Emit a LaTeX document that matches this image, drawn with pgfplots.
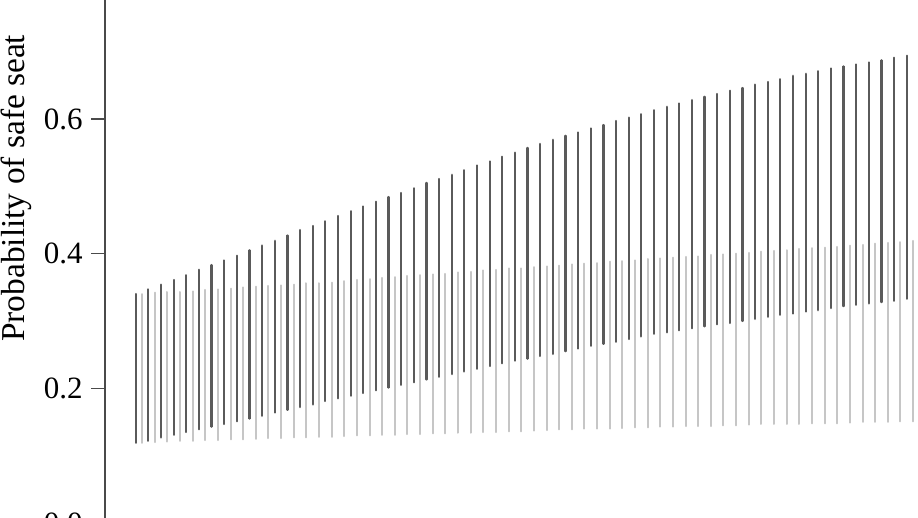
\documentclass[border=0pt]{standalone}
\usepackage{pgfplots}
\usepackage{pgfplotstable}
\pgfplotsset{compat=1.18}
\usepackage{fontspec}
\setmainfont{Liberation Serif}
\definecolor{darkbar}{HTML}{5A5A5A}
\definecolor{lightbar}{HTML}{C6C6C6}
\definecolor{axisgray}{HTML}{4A4A4A}

\pgfplotstableread{
x lo hi
0 0.119 0.340
1 0.122 0.347
2 0.127 0.354
3 0.131 0.361
4 0.135 0.368
5 0.139 0.376
6 0.143 0.383
7 0.147 0.390
8 0.151 0.397
9 0.155 0.405
10 0.159 0.412
11 0.164 0.419
12 0.168 0.427
13 0.172 0.435
14 0.176 0.441
15 0.181 0.448
16 0.185 0.456
17 0.189 0.463
18 0.193 0.470
19 0.197 0.477
20 0.201 0.484
21 0.205 0.490
22 0.209 0.497
23 0.213 0.505
24 0.217 0.511
25 0.221 0.517
26 0.225 0.524
27 0.229 0.531
28 0.233 0.537
29 0.237 0.544
30 0.241 0.550
31 0.244 0.557
32 0.248 0.563
33 0.251 0.569
34 0.255 0.575
35 0.259 0.580
36 0.263 0.586
37 0.266 0.591
38 0.269 0.597
39 0.273 0.602
40 0.277 0.607
41 0.281 0.613
42 0.283 0.618
43 0.286 0.623
44 0.289 0.628
45 0.292 0.633
46 0.295 0.637
47 0.297 0.642
48 0.300 0.646
49 0.303 0.651
50 0.306 0.655
51 0.309 0.659
52 0.311 0.664
53 0.314 0.667
54 0.316 0.671
55 0.319 0.675
56 0.322 0.678
57 0.324 0.681
58 0.326 0.684
59 0.328 0.687
60 0.330 0.691
61 0.333 0.694
}\darktab

\pgfplotstableread{
x lo hi
0.5 0.119 0.340
1.5 0.120 0.342
2.5 0.121 0.343
3.5 0.122 0.343
4.5 0.122 0.344
5.5 0.123 0.346
6.5 0.123 0.347
7.5 0.124 0.348
8.5 0.124 0.350
9.5 0.125 0.351
10.5 0.126 0.352
11.5 0.126 0.353
12.5 0.127 0.354
13.5 0.127 0.356
14.5 0.128 0.356
15.5 0.128 0.357
16.5 0.129 0.359
17.5 0.130 0.361
18.5 0.130 0.362
19.5 0.131 0.364
20.5 0.131 0.365
21.5 0.132 0.367
22.5 0.132 0.368
23.5 0.133 0.369
24.5 0.133 0.370
25.5 0.134 0.372
26.5 0.134 0.373
27.5 0.135 0.375
28.5 0.135 0.376
29.5 0.136 0.378
30.5 0.136 0.378
31.5 0.137 0.380
32.5 0.138 0.381
33.5 0.139 0.382
34.5 0.139 0.384
35.5 0.140 0.385
36.5 0.140 0.386
37.5 0.140 0.388
38.5 0.141 0.389
39.5 0.142 0.390
40.5 0.142 0.392
41.5 0.143 0.393
42.5 0.143 0.394
43.5 0.144 0.395
44.5 0.144 0.396
45.5 0.144 0.398
46.5 0.145 0.399
47.5 0.145 0.400
48.5 0.146 0.401
49.5 0.147 0.403
50.5 0.147 0.404
51.5 0.147 0.405
52.5 0.147 0.407
53.5 0.148 0.408
54.5 0.148 0.409
55.5 0.148 0.410
56.5 0.149 0.412
57.5 0.150 0.413
58.5 0.150 0.415
59.5 0.150 0.416
60.5 0.151 0.417
61.5 0.151 0.419
}\lighttab

\begin{document}
\begin{tikzpicture}
\begin{axis}[
  x=6.32pt, y=336.75pt,
  xmin=-2.43, xmax=61.89,
  ymin=0, ymax=0.8,
  axis y line=left,
  axis x line=none,
  axis line style={-, axisgray, line width=0.65pt},
  ytick={0,0.2,0.4,0.6},
  yticklabel style={/pgf/number format/fixed, /pgf/number format/fixed zerofill, /pgf/number format/precision=1, inner sep=0pt, xshift=-4pt, font=\fontsize{15.5}{18}\selectfont},
  /pgf/number format/assume math mode=true,
  tick align=outside,
  major tick length=7pt,
  tick style={axisgray, line width=0.65pt},
  clip=false,
]
\addplot[draw=none, mark=none, forget plot,
  error bars/.cd, y dir=plus, y explicit, error mark=none,
  error bar style={draw=lightbar, line width=1.0pt, line cap=round}]
  table[x=x, y=lo, y error expr=\thisrow{hi}-\thisrow{lo}] {\lighttab};
\addplot[draw=none, mark=none, forget plot,
  error bars/.cd, y dir=plus, y explicit, error mark=none,
  error bar style={draw=darkbar, line width=1.1pt, line cap=round}]
  table[x=x, y=lo, y error expr=\thisrow{hi}-\thisrow{lo}] {\darktab};
\node[rotate=90, font=\fontsize{16.7}{19}\selectfont] at (axis cs:-9.47,0.497) {Probability of safe seat};
\coordinate (bbsw) at (axis cs:-10.74,0.0089);
\coordinate (bbne) at (axis cs:61.89,0.7766);
\end{axis}
\pgfresetboundingbox
\useasboundingbox (bbsw) rectangle (bbne);
\end{tikzpicture}
\end{document}
